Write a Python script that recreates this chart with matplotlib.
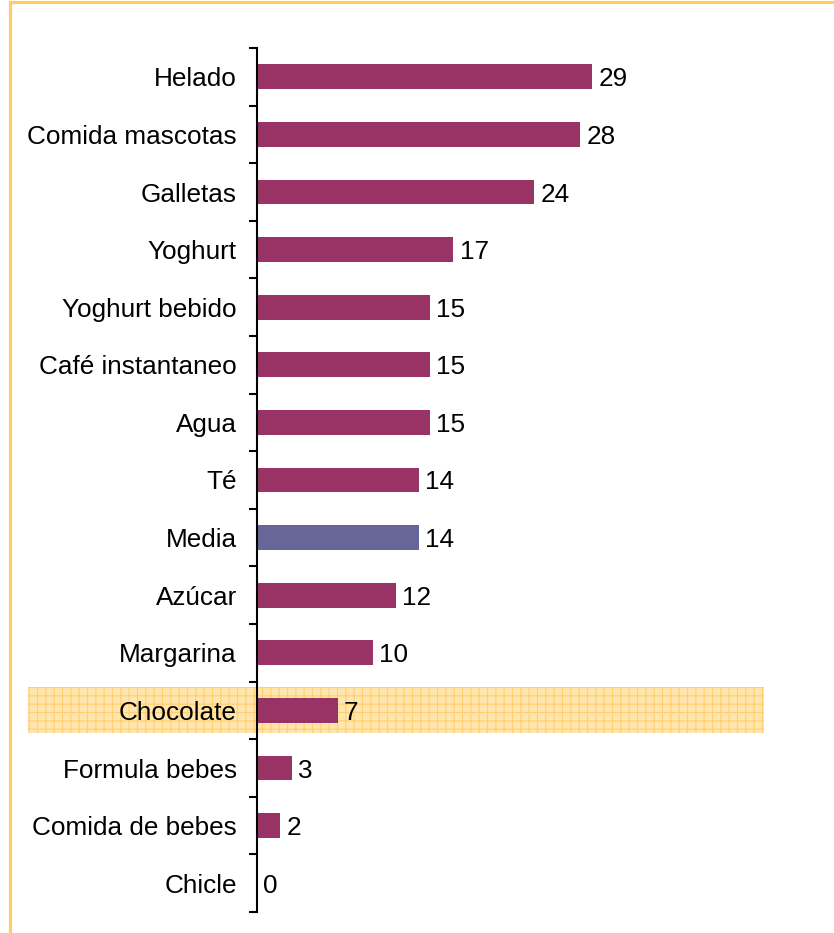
import matplotlib
matplotlib.use("Agg")
import matplotlib.pyplot as plt
from matplotlib.patches import Rectangle
from matplotlib.lines import Line2D
import matplotlib.transforms as mtransforms

categories = ["Helado", "Comida mascotas", "Galletas", "Yoghurt", "Yoghurt bebido",
              "Café instantaneo", "Agua", "Té", "Media", "Azúcar", "Margarina",
              "Chocolate", "Formula bebes", "Comida de bebes", "Chicle"]
values = [29, 28, 24, 17, 15, 15, 15, 14, 14, 12, 10, 7, 3, 2, 0]
highlight = "Chocolate"
average_label = "Media"

plt.rcParams['font.family'] = ['Liberation Sans', 'DejaVu Sans']
plt.rcParams['hatch.linewidth'] = 0.8
plt.rcParams['hatch.color'] = '#FFCC66'

W, H = 834, 933
FS = 18.8
fig = plt.figure(figsize=(W / 100, H / 100), dpi=100)
fig.patch.set_facecolor('white')

# outer frame (only top and left visible)
fig.add_artist(Line2D([9.5 / W, 1.0], [(H - 1.5) / H, (H - 1.5) / H],
                      transform=fig.transFigure, color='#FFCC66', linewidth=2.3))
fig.add_artist(Line2D([9.5 / W, 9.5 / W], [0.0, (H - 1.5) / H],
                      transform=fig.transFigure, color='#FFCC66', linewidth=2.3))

ax = fig.add_axes([257 / W, (H - 912) / H, 462 / W, (912 - 48) / H])
ax.set_xlim(0, 40)
ax.set_ylim(len(categories) - 0.5, -0.5)

colors = ['#666699' if c == average_label else '#993366' for c in categories]
ypos = list(range(len(categories)))
ax.barh(ypos, values, height=0.43, color=colors, zorder=3)

for y, v in zip(ypos, values):
    ax.annotate(str(v), (v, y), xytext=(4.5, 0), textcoords='offset points',
                va='center_baseline', ha='left', fontsize=FS, zorder=4)

# highlight band
hi = categories.index(highlight)
trans = mtransforms.blended_transform_factory(fig.transFigure, ax.transData)
band = Rectangle((28 / W, hi - 0.4), (764 - 28) / W, 0.8, transform=trans,
                 facecolor='#FFE6AE', edgecolor='#FFCF70', hatch='++',
                 linewidth=0, clip_on=False, zorder=1)
ax.add_patch(band)

for s in ['top', 'right', 'bottom']:
    ax.spines[s].set_visible(False)
ax.spines['left'].set_linewidth(1.5)
ax.spines['left'].set_zorder(5)
ax.patch.set_visible(False)

ax.set_xticks([])
ax.set_yticks(ypos)
ax.set_yticklabels(categories, fontsize=FS, va='center_baseline')
ax.tick_params(axis='y', which='major', length=0, pad=14.5)
ax.set_yticks([i - 0.5 for i in range(len(categories) + 1)], minor=True)
ax.tick_params(axis='y', which='minor', length=6, width=1.5, direction='out')

fig.savefig('out.png', dpi=100)
